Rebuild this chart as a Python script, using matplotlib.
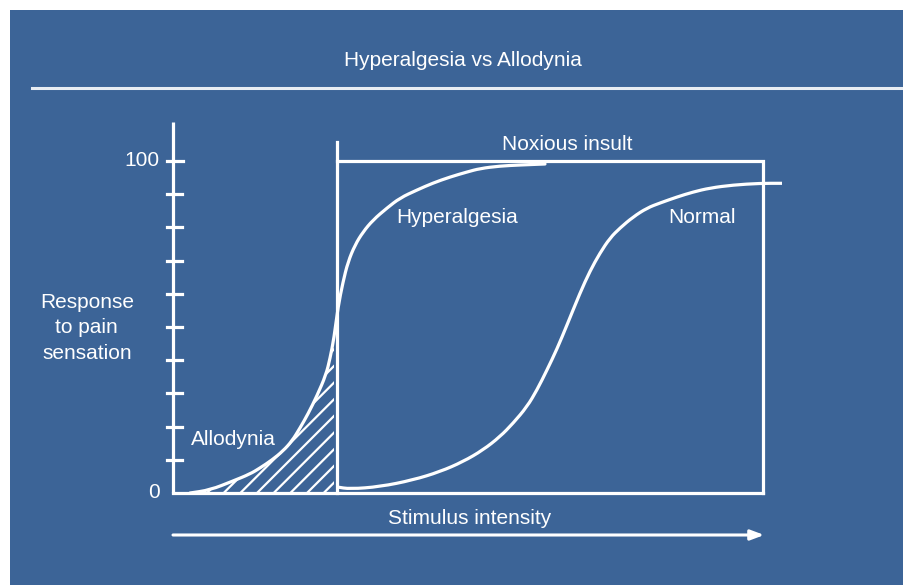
import numpy as np
import matplotlib
matplotlib.use("Agg")
import matplotlib.pyplot as plt
from matplotlib.patches import Rectangle, PathPatch
from matplotlib.path import Path

plt.rcParams["font.family"] = ["Liberation Sans", "DejaVu Sans"]
plt.rcParams["hatch.color"] = "white"
plt.rcParams["hatch.linewidth"] = 1.6

# ── data (stimulus 0-100, response 0-100) ─────────────────────────────────────
hyper_x = [2.88, 6.27, 10.17, 13.05, 14.75, 16.78, 18.64, 20.17, 21.53, 22.88,
           24.41, 25.93, 26.61, 27.29, 27.97, 28.81, 29.66, 30.85, 32.2, 33.9,
           36.27, 38.47, 41.36, 44.07, 46.95, 49.83, 52.03, 55.42, 58.81, 63.05]
hyper_y = [0.0, 0.9, 3.61, 5.72, 7.53, 9.94, 12.65, 15.66, 19.58, 23.8,
           29.3, 35.6, 40.5, 46.69, 56.02, 63.55, 69.58, 74.7, 78.61, 82.23,
           85.84, 88.86, 91.27, 93.37, 95.18, 96.69, 97.74, 98.49, 98.8, 99.1]

normal_x = [27.8, 30.0, 35.08, 40.68, 45.25, 49.15, 52.54, 55.42, 57.63, 60.0,
            61.69, 63.39, 65.08, 66.78, 68.98, 70.68, 72.37, 74.07, 75.76,
            77.97, 80.34, 82.54, 85.42, 88.14, 91.02, 94.92, 99.49, 103.22]
normal_y = [1.81, 1.2, 1.9, 3.92, 6.42, 9.43, 12.95, 16.96, 20.99, 25.99,
            31.02, 37.05, 43.37, 50.6, 60.24, 66.87, 72.29, 76.81, 79.82,
            83.13, 85.84, 87.35, 89.16, 90.66, 91.87, 92.77, 93.28, 93.28]

threshold = 27.8          # noxious insult starts here
box_right = 100.0
y_ticks = [10, 20, 30, 40, 50, 60, 70, 80, 90, 100]
y_labels = {0: "0", 100: "100"}

BLUE = "#3c6497"
W = "white"
LW = 2.3
FS = 15


def smooth_curve(xs, ys):
    """Quadratic-Bezier path using the read points as control points."""
    pts = np.column_stack([xs, ys])
    verts = [pts[0], (pts[0] + pts[1]) / 2]
    codes = [Path.MOVETO, Path.LINETO]
    for i in range(1, len(pts) - 1):
        verts += [pts[i], (pts[i] + pts[i + 1]) / 2]
        codes += [Path.CURVE3, Path.CURVE3]
    verts.append(pts[-1])
    codes.append(Path.LINETO)
    return Path(verts, codes)


# ── figure: full-canvas axes, data mapped onto pixel layout ──────────────────
fig = plt.figure(figsize=(9.04, 5.85), dpi=100, facecolor=BLUE)
# thin white margin on top and left
fig.patches.append(Rectangle((0, 1 - 10 / 585), 1, 10 / 585, transform=fig.transFigure,
                             facecolor="white", edgecolor="none", zorder=0))
fig.patches.append(Rectangle((0, 0), 10 / 904, 1, transform=fig.transFigure,
                             facecolor="white", edgecolor="none", zorder=0))

# title and underline
fig.text(463 / 904, 1 - 61 / 585, "Hyperalgesia vs Allodynia", color=W,
         fontsize=FS, ha="center", va="center")
fig.add_artist(plt.Line2D([32 / 904, 1.0], [1 - 88 / 585] * 2,
                          transform=fig.transFigure, color="#e8edf3", lw=2.2))

ax = fig.add_axes([0, 0, 1, 1])
ax.set_zorder(3)
ax.patch.set_visible(False)
ax.set_xlim(-173 / 5.9, (904 - 173) / 5.9)
ax.set_ylim(-(585 - 493) / 3.32, 493 / 3.32)
ax.axis("off")

# y axis with ticks
ax.plot([0, 0], [0, 111.7], color=W, lw=LW, solid_capstyle="butt")
for t in y_ticks:
    ax.plot([-1.0, 1.5 if t < 100 else 1.7], [t, t], color=W, lw=LW)
for v, s in y_labels.items():
    ax.text(-2.3, v, s, color=W, fontsize=FS, ha="right", va="center")

# x axis / box bottom
ax.plot([0, box_right], [0, 0], color=W, lw=LW, solid_capstyle="projecting")

# noxious-insult box
ax.plot([threshold, threshold], [0, 105.7], color=W, lw=LW)
ax.plot([threshold, box_right, box_right], [100, 100, 0], color=W, lw=LW,
        solid_joinstyle="miter")

# curves
ax.add_patch(PathPatch(smooth_curve(hyper_x, hyper_y), fill=False,
                       edgecolor=W, lw=LW, capstyle="round"))
ax.add_patch(PathPatch(smooth_curve(normal_x, normal_y), fill=False,
                       edgecolor=W, lw=LW, capstyle="butt"))

# allodynia hatched region
hx = np.array(hyper_x)
hy = np.array(hyper_y)
m = hx <= threshold
ax.fill_between(hx[m], 0, hy[m], facecolor="none", edgecolor=W, hatch="//",
                linewidth=0)

# stimulus arrow
ax.annotate("", xy=(100.2, -12.65), xytext=(0, -12.65),
            arrowprops=dict(arrowstyle="-|>,head_length=0.8,head_width=0.3",
                            color=W, lw=2.2, shrinkA=0, shrinkB=0))

# labels
ax.text(66.8, 105.1, "Noxious insult", color=W, fontsize=FS, ha="center", va="center")
ax.text(48.1, 83.1, "Hyperalgesia", color=W, fontsize=FS, ha="center", va="center")
ax.text(89.7, 83.1, "Normal", color=W, fontsize=FS, ha="center", va="center")
ax.text(10.2, 16.0, "Allodynia", color=W, fontsize=FS, ha="center", va="center")
ax.text(50.3, -7.8, "Stimulus intensity", color=W, fontsize=FS, ha="center", va="center")
ax.text(-14.6, 49.7, "Response\nto pain\nsensation", color=W, fontsize=FS,
        ha="center", va="center", linespacing=1.42)

fig.savefig("out.png", dpi=100, facecolor=BLUE)
